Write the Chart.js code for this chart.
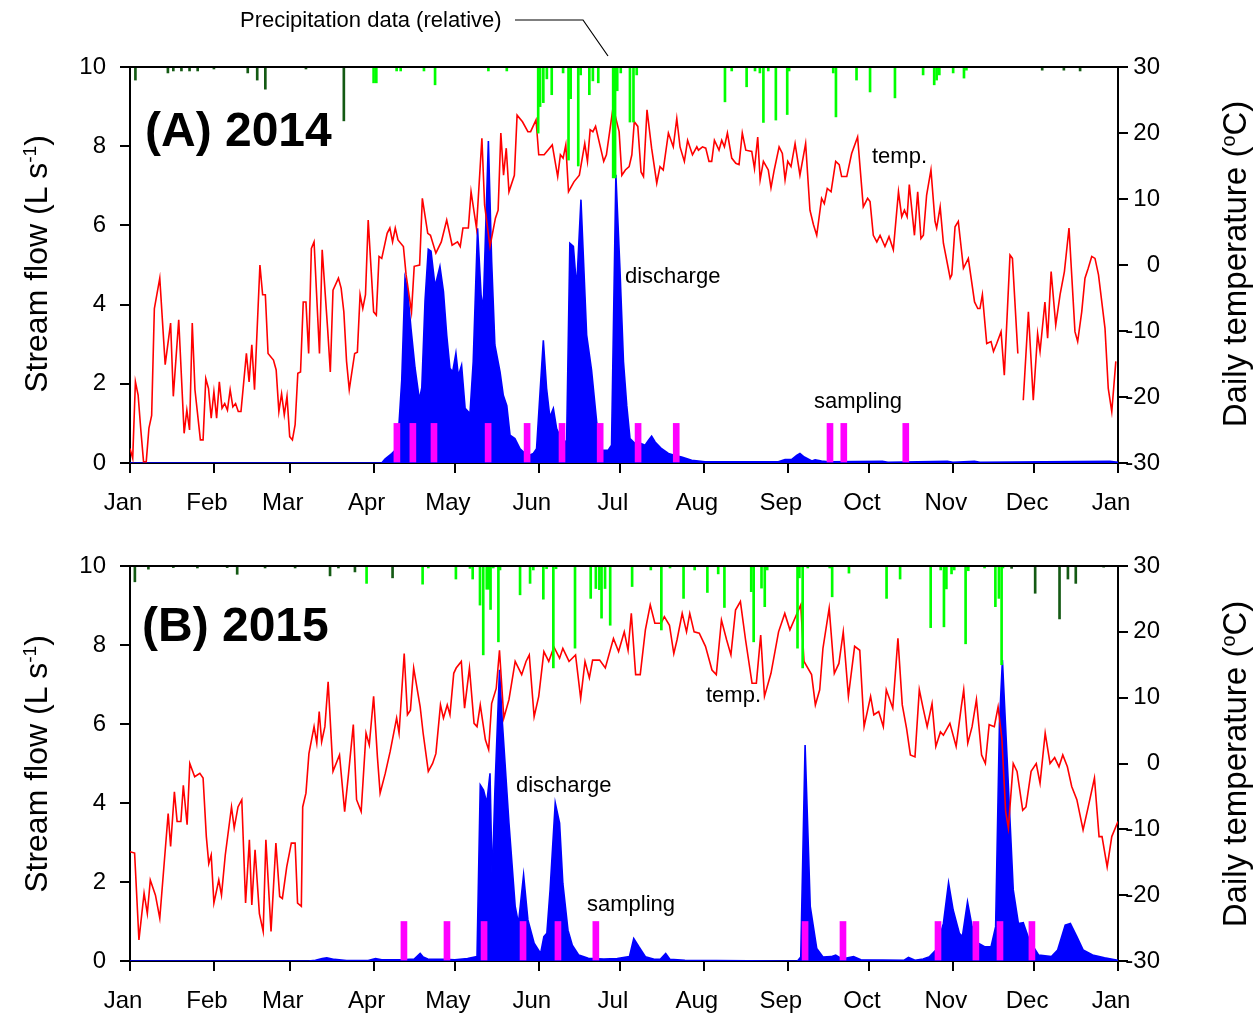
<!DOCTYPE html>
<html>
<head>
<meta charset="utf-8">
<script src="https://cdn.jsdelivr.net/npm/chart.js@4.4.1/dist/chart.umd.min.js"></script>
<style>
  html, body { margin: 0; padding: 0; background: #fff; }
  body { width: 1260px; height: 1017px; position: relative; overflow: hidden; font-family: 'Liberation Sans', Arial, sans-serif; color: #000; }
  canvas { position: absolute; left: 0; }
  .t { position: absolute; white-space: nowrap; transform: translateY(-50%); line-height: 1; }
  .rot { position: absolute; white-space: nowrap; transform: translate(-50%, -50%) rotate(-90deg); font-size: 32px; line-height: 1; }
  sup { font-size: 60%; position: relative; top: -0.55em; vertical-align: baseline; }
</style>
</head>
<body>
<canvas id="cA" width="1260" height="520" style="top:0px"></canvas>
<canvas id="cB" width="1260" height="517" style="top:500px"></canvas>

<div class="t" style="left:240px; top:20px; font-size:22px;">Precipitation data (relative)</div>
<svg style="position:absolute; left:0; top:0;" width="1260" height="80"><polyline points="515,20 583,20 608,56" fill="none" stroke="#000" stroke-width="1.2"/></svg>

<div class="t" style="left:145px; top:130px; font-size:48px; font-weight:bold;">(A) 2014</div>
<div class="t" style="left:142px; top:625px; font-size:48px; font-weight:bold;">(B) 2015</div>

<div class="t" style="left:872px; top:156px; font-size:22px;">temp.</div>
<div class="t" style="left:625px; top:276px; font-size:22px;">discharge</div>
<div class="t" style="left:814px; top:401px; font-size:22px;">sampling</div>
<div class="t" style="left:706px; top:695px; font-size:22px;">temp.</div>
<div class="t" style="left:516px; top:785px; font-size:22px;">discharge</div>
<div class="t" style="left:587px; top:904px; font-size:22px;">sampling</div>

<div class="rot" style="left:36px; top:264px;">Stream flow (L s<sup>-1</sup>)</div>
<div class="rot" style="left:36px; top:764px;">Stream flow (L s<sup>-1</sup>)</div>
<div class="rot" style="left:1234px; top:264px; font-size:33px;">Daily temperature (<sup>o</sup>C)</div>
<div class="rot" style="left:1234px; top:764px; font-size:33px;">Daily temperature (<sup>o</sup>C)</div>

<script>
// ---------- tick labels ----------
const monthStarts = [0, 31, 59, 90, 120, 151, 181, 212, 243, 273, 304, 334, 365];
const monthLabels = ['Jan','Feb','Mar','Apr','May','Jun','Jul','Aug','Sep','Oct','Nov','Dec','Jan'];

// ---------- 2014 ----------
const temp2014 = [[0,-27.8],[1,-29.3],[2,-17.7],[3,-19.7],[4,-25],[5,-29.8],[6,-29.8],[7,-24.7],[8,-22.8],[9,-6.6],[11,-2.0],[13,-15.1],[15,-8.8],[16,-19.9],[18,-8.3],[20,-25.5],[21,-22],[22,-25],[23,-8.8],[24,-18.9],[26,-26.5],[27,-26.5],[28,-17.2],[29,-18.7],[30,-23.2],[31,-19.2],[32,-23.2],[33,-17.7],[34,-21.7],[35,-21],[36,-22],[37,-18.9],[38,-21.5],[39,-21],[40,-22.2],[41,-22.2],[43,-13.4],[44,-17.7],[45,-12.1],[46,-18.9],[48,0],[49,-4.5],[50,-4.5],[51,-13.4],[53,-14.4],[54,-15.9],[55,-22.2],[56,-19.5],[57,-22.7],[58,-19.9],[59,-26],[60,-26.5],[61,-24.2],[62,-16.4],[63,-16.2],[64,-5.6],[65,-5.6],[66,-13.4],[67,2.5],[68,3.5],[70,-13.4],[71,2.3],[73,-9.6],[74,-16.2],[75,-3.8],[77,-2.0],[78,-3.5],[79,-7.1],[80,-14.6],[81,-18.9],[83,-13.4],[84,-13.2],[85,-4.5],[86,-6.6],[87,-4.5],[88,6.8],[90,-7.1],[91,-7.6],[92,1.3],[93,1.0],[95,4.8],[96,5.6],[97,3.5],[98,5.6],[99,3.8],[101,2.8],[102,-1.5],[104,-7.1],[105,-0.2],[107,0],[108,10.1],[110,4.8],[111,4.5],[113,1.8],[115,3.5],[117,6.8],[119,3.0],[121,3.5],[122,2.8],[123,5.6],[125,5.6],[126,11.1],[128,5.6],[130,19.2],[131,9.1],[133,2.8],[135,7.1],[136,8.3],[137,20],[138,13.6],[139,17.7],[140,11.1],[142,13.6],[143,22.7],[145,21.7],[147,20.2],[148,20.2],[150,22],[151,16.7],[153,16.7],[156,18.2],[158,13.4],[159,16.7],[160,16.2],[161,18.2],[162,11.1],[164,12.6],[166,13.6],[168,18.4],[169,15.7],[170,20.5],[171,20.2],[172,21],[175,15.7],[176,16.7],[178.5,24],[179.2,22.7],[180.7,20.2],[181.7,13.6],[183,14.4],[184.4,14.9],[185.4,16.7],[186.3,21.7],[187.6,21],[188.8,14.1],[189.7,13.4],[191,23.5],[192.7,17.7],[194.6,12.4],[195.8,14.9],[197,14.4],[198.9,20],[200.7,17.9],[202,22.2],[203.2,17.9],[204.8,15.7],[206,18.9],[207.8,16.7],[209.4,17.9],[210,17.4],[211.5,17.9],[212.7,17.7],[213.9,15.7],[214.9,15.7],[215.9,18.9],[217.6,17.4],[218.6,18.9],[219.6,17.9],[220.7,20],[222.3,16.2],[223.8,15.4],[225,15.2],[226.2,20],[227.5,17.4],[229.7,17.2],[230.7,14.6],[231.9,19.4],[232.8,12.9],[234,15.7],[235.8,14.4],[236.8,11.7],[238,14.4],[239.8,17.9],[241,16.9],[242,12.9],[243,15.7],[244.2,14.9],[245.7,18.4],[247.5,13.6],[249.6,18.4],[251.2,8.3],[252.5,6.1],[253.7,4.5],[255.5,10.1],[256.5,9.3],[257.6,11.6],[259,11.1],[260.7,15.7],[262,15.2],[262.9,13.4],[264.8,13.4],[266.6,16.9],[268.8,19.4],[270.9,8.8],[272.5,10.1],[273.4,9.6],[274.6,4.5],[275.9,3.5],[277.1,4.5],[278.9,2.8],[280.4,4.3],[282,2.3],[283.9,11.1],[285.1,7.3],[286.1,8.3],[287.1,7.3],[287.9,12.2],[289.8,4.5],[291,11.1],[292.2,4],[293.1,4.5],[294.3,10.6],[295.9,14.4],[297.4,6.6],[298,5.6],[299.3,8.8],[300.5,3.3],[303,-2],[303.6,-1.5],[304.8,5.8],[306,6.6],[307.9,-0.5],[309.7,1.0],[312,-5.6],[313.2,-6.6],[314,-6.6],[314.9,-4.5],[316.5,-11.9],[318.1,-11.6],[319,-13.1],[320.2,-11.9],[321.8,-10.1],[323,-16.7],[325.1,1.5],[326,1.0],[328,-13.4],[329,null],[330,-20.5],[331.9,-7.1],[333.7,-20.5],[335.3,-10.4],[336.2,-13.1],[338,-5.6],[339,-11.1],[340.3,-1],[342,-9.1],[343.6,-4.5],[345.2,-1.0],[346.9,5.6],[349.1,-10.1],[350.1,-11.6],[351.6,-7.1],[352.8,-2.0],[354,-0.5],[355.3,1.3],[356.5,1.0],[357.8,-1.5],[360.2,-9.6],[361.4,-18.7],[362.7,-22.2],[364.2,-14.6]];

const flow2014 = [[0,0],[93,0],[94.2,0.1],[96.7,0.24],[98.5,0.36],[99.4,1.0],[100.4,2.1],[101.6,4.67],[102.5,4.4],[103.8,3.4],[105.3,2.4],[106.9,1.6],[107.8,1.9],[109,4.1],[110.2,5.4],[111.2,5.35],[112.7,4.46],[114.5,4.96],[115.8,4.33],[117,3.23],[118.2,2.39],[119.2,2.3],[120.4,2.77],[121.3,2.2],[122.5,2.47],[123.8,1.38],[125.6,1.25],[126.8,2.56],[128.4,5.93],[129.7,4.24],[130.5,3.9],[132.4,8.13],[133.6,5.1],[134.8,2.98],[136.7,2.3],[137.9,1.71],[139.2,1.45],[140.4,0.7],[142.2,0.62],[144.1,0.36],[146,0.24],[147.8,0.2],[149,0.24],[150.2,0.36],[151.5,1.8],[152.7,3.1],[153.9,1.88],[155.1,1.16],[156.4,1.38],[157.6,0.87],[159.4,0.6],[161.3,0.53],[162.5,5.55],[163.8,5.47],[165,4.41],[166.6,6.65],[168.7,3.23],[170.5,2.35],[172.4,1.04],[174.2,0.32],[176.6,0.32],[177.9,0.45],[179.5,7.28],[181,4.9],[182.3,2.56],[183.5,1.46],[184.7,0.62],[186.6,0.49],[188.8,0.49],[190.3,0.45],[191.5,0.57],[192.7,0.68],[194,0.53],[196.4,0.36],[198.9,0.24],[201.4,0.19],[203.8,0.15],[207.5,0.07],[212.4,0.03],[239.5,0.03],[242,0.09],[244.5,0.09],[246.3,0.19],[247.5,0.24],[249.1,0.15],[251.9,0.05],[253.1,0.08],[255.5,0.05],[258,0.03],[278,0.04],[280,0.02],[302,0.04],[304,0.02],[312,0.04],[314,0.02],[362,0.04],[365,0.02]];

const sampling2014 = [98.6, 104.5, 112.3, 132.3, 146.7, 159.6, 173.7, 187.7, 201.8, 258.6, 263.7, 286.6];

const rain2014 = [[90,4],[91,4],[98.5,1],[100,1],[108.6,1],[112.7,4.5],[132.4,1],[139.2,1],[150.8,16.7],[151.5,10],[152.7,9],[154,3],[155.8,7],[160,1.5],[162,23.5],[162.8,8],[165.6,25],[166.5,2],[169.7,7],[171,3.5],[173,4],[178.5,28],[179.2,28],[180,6],[181.3,1.5],[184.7,13.9],[186,13.9],[187.2,2],[219.8,8.8],[222.3,1],[227.8,5],[230.9,1],[232.7,1.5],[234,14],[235.8,1],[238.6,13.4],[242.8,12],[243.5,1],[259.8,1.5],[260.8,12.6],[268.4,3.3],[273.4,6.3],[282.6,7.8],[293,2],[297.1,4.5],[298,3.3],[299,2],[304.1,1.5],[308.1,2.8],[309,0.8]];
const snow2014 = [[2,3.3],[14,1.5],[16,1],[19,1],[22,1],[25,1],[31,0.5],[43.5,1.5],[47,3.3],[50,5.6],[65,0.5],[79,13.6],[337,0.8],[345,0.8],[351,1]];

// ---------- 2015 ----------
const temp2015 = [[0,-13.4],[1.7,-13.6],[3.3,-26.8],[5.2,-19.7],[6.4,-22.8],[7.5,-17.7],[9.4,-20],[11,-23.5],[14.1,-7.6],[15,-12.6],[16.4,-4.3],[17.4,-8.8],[18.8,-8.8],[19.7,-3.3],[21.1,-9.3],[22.1,0],[23.9,-2],[25.8,-1.5],[27,-2.2],[28.2,-11.1],[29.1,-15.2],[30,-13.9],[31,-21.2],[32.8,-17.7],[33.8,-20],[35.2,-13.9],[37.5,-6.6],[38.5,-9.8],[39.9,-6.6],[41.3,-5.5],[42.7,-21.2],[44.1,-11.6],[45,-21.5],[46.2,-13.1],[47.8,-22.8],[49.2,-25.5],[50.2,-11.6],[52.1,-25.5],[53.9,-12.1],[55.3,-20.2],[56.3,-20.5],[57.9,-15.7],[59.6,-12.1],[61,-12.1],[61.9,-21.2],[63.3,-21.7],[63.8,-6.6],[65,-4.5],[66.1,1.5],[68,5.6],[69,3.1],[69.9,7.9],[70.8,3.3],[72,5.6],[73.2,12.4],[75,-1.2],[77.4,1.3],[79.3,-7.3],[80.7,-1.7],[82.5,5.9],[83.7,-5.5],[85.4,-7.3],[87.2,4.6],[88.4,2.8],[90,10.2],[91.4,1.0],[92.4,-4.5],[94.3,-1.5],[96.1,1.8],[98.5,6.9],[99.4,4.6],[101.3,16.7],[102.5,7.4],[103.6,8.1],[104.8,14.5],[107.2,8.6],[108.3,4.6],[110.2,-1.2],[111.8,0],[113,1.5],[114.7,8.9],[115.8,6.9],[117.2,8.9],[118.2,7.4],[119.6,13.7],[120.5,14.5],[122.4,15.5],[123.6,8.4],[125.4,14.5],[127.1,6.1],[128.2,5.6],[129.4,8.9],[131.3,3.6],[132.5,2.1],[133.6,9.1],[135.3,11.4],[136.5,17.2],[138.1,6.9],[140,9.7],[142.3,15.5],[144.7,13.5],[146.3,15.5],[147.5,16.5],[149.3,7.1],[151,10.2],[152.9,17],[154.7,15.5],[156.6,17.7],[158.7,16],[159.9,17.5],[162.2,15.5],[164.6,16.5],[166.5,9.9],[168.1,15.5],[169.7,13],[170.9,15.7],[173.5,15.7],[175.6,14.5],[178.6,19],[180.5,17],[182.6,20],[184,17.2],[185.2,22.8],[186.8,13.5],[188.5,13.5],[190.4,20.3],[192.2,24.1],[193.9,21.3],[196.2,21.3],[197.4,22.3],[199.3,21],[200.9,16.7],[202.1,18.8],[204,22.8],[205.6,20],[206.8,22.8],[208.4,20],[210.3,19.8],[212.6,17.8],[215,14.2],[216.6,13.5],[218.5,21.8],[220.4,18.8],[222,16.5],[223.7,23.3],[225.5,24.6],[227.4,18.8],[229.8,12.2],[231.4,12.2],[233,19.5],[234.4,10.2],[236.8,13.7],[239.6,20],[241.9,22.8],[243.8,20.3],[246.2,22.6],[247.8,24.1],[249,15.5],[251.8,13.5],[253.2,8.9],[254.8,11.2],[256,17.5],[258.3,23.6],[260.2,13.7],[261.9,15.2],[263.5,20],[265.4,10.2],[267.7,17.8],[269.6,17.2],[271.2,5.6],[273.6,10.2],[274.8,7.4],[276.6,7.9],[278.3,5.6],[279.4,11.2],[281.8,8.4],[283.7,19],[285.3,8.9],[286.9,5.3],[288.3,1.3],[290,1.0],[291.6,11.2],[293,8.4],[294.5,5.6],[296.3,9.1],[297.7,2.6],[299.4,4.8],[300.5,4.3],[302.9,6.1],[305.2,2.6],[307.1,8.6],[308,11.2],[309.5,3.1],[311.1,5.6],[312.7,9.7],[314.6,1.3],[316,0],[317.4,5.9],[319.3,5.6],[320.7,8.6],[322.1,3.8],[323.5,-7.3],[324.5,-9.8],[326.3,0],[327.7,-1.2],[329.8,-7.1],[331,-6.6],[332.9,-1.2],[334.8,0],[336.2,-3],[338.1,4.6],[339.9,0],[341.6,0.9],[343.2,-0.5],[344.6,1.3],[346.3,-0.5],[347.9,-3.5],[349.8,-5.5],[352.1,-10.1],[354,-6.6],[356.3,-2.2],[358,-11.1],[359.1,-11.1],[361,-15.7],[362.7,-11.1],[365,-8.8]];

const flow2015 = [[0,0],[66,0],[68.5,0.02],[71,0.06],[72.7,0.08],[75.5,0.04],[80,0.01],[88,0.01],[90.7,0.06],[93,0.03],[100,0.03],[105,0.05],[107.2,0.19],[108.3,0.1],[110,0.05],[116,0.04],[120,0.03],[124.7,0.06],[128.2,0.11],[129.4,4.46],[130.6,4.33],[131.8,4.0],[133,4.75],[133.8,2.0],[134.8,4.3],[136.5,7.37],[137.6,6.0],[140,3.49],[142.3,1.38],[143.5,0.95],[145.4,2.18],[147,1.04],[149.3,0.45],[151.7,0.19],[152.9,0.62],[154,0.7],[155.2,1.8],[157.1,4.0],[158.7,3.49],[159.9,1.97],[161.8,0.78],[163.4,0.4],[165.8,0.15],[169.3,0.07],[175,0.05],[180,0.06],[184.5,0.11],[186.1,0.57],[188,0.36],[190.4,0.11],[194,0.04],[196,0.05],[197.9,0.19],[199.5,0.04],[205,0.02],[240,0.0],[246.6,0.0],[247.8,0.1],[249.4,5.47],[251.3,1.38],[253.7,0.32],[256,0.1],[259,0.11],[260.7,0.15],[263,0.05],[267.3,0.11],[270,0.03],[286,0.02],[287.6,0.09],[290,0.02],[293,0.05],[295.4,0.11],[297.7,0.28],[300.5,0.95],[302.4,1.98],[304.1,1.29],[306.4,0.7],[307.5,0.62],[309.4,1.5],[311.1,0.87],[313.4,0.45],[315.7,0.36],[318.1,0.36],[319.8,0.87],[321.2,6.0],[322.3,7.62],[324,5.17],[326.3,1.8],[328.2,0.95],[330,0.97],[332.2,0.53],[335.7,0.15],[340.4,0.11],[342.7,0.28],[345.5,0.91],[347.4,0.95],[349.8,0.62],[352.1,0.28],[355.6,0.15],[360,0.08],[365,0.02]];

const sampling2015 = [101.2, 117.1, 130.8, 145.2, 158.1, 172.1, 249.4, 263.4, 298.5, 312.5, 321.4, 333.2];

const rain2015 = [[87.4,4.4],[108.1,4.6],[110.2,0.5],[120.4,3.3],[125.6,0.6],[126.6,3.3],[129.3,9.9],[130.5,22.5],[131.8,5.9],[132.7,5.9],[133.2,11],[134.2,0.5],[136.1,19.2],[136.7,1],[144.1,7.3],[147.8,4.4],[149,1],[152.7,8.4],[153.9,0.7],[156.4,25.8],[157.4,0.7],[164.4,20.8],[170.2,8.2],[172.1,5.7],[173.4,6],[174.2,13.2],[175.5,5.7],[177.4,15],[185.5,5.2],[192.4,1],[196.3,16.2],[199.5,0.5],[204.5,8.2],[208.6,1],[213.3,6.7],[217.3,2],[219.6,10.5],[229.5,6.5],[230.4,19.2],[233.3,5.6],[234.5,10.3],[235.4,1],[246.6,20.8],[247.3,3],[248.5,25.8],[250.4,0.5],[258.5,0.5],[259.4,7.8],[265.6,1.8],[279.5,8.2],[284.5,3.3],[295.8,15.6],[299.5,1],[300.7,15.4],[301.6,5.8],[303.5,2],[304.5,1],[308.7,19.7],[309.7,1.2],[315.7,0.5],[319.7,10.3],[321,8.2],[322,25],[322.5,0.5]];
const snow2015 = [[1.8,4],[6.8,0.8],[16,0.4],[24.9,0.5],[35.9,0.4],[39.6,2.1],[49.9,0.5],[61,0.5],[73.9,2.5],[77,0.5],[83.1,1.5],[97,3],[325.7,0.6],[334.4,6.9],[343.4,13.4],[346.5,3.3],[349.4,4.4],[359.7,0.3]];

const SAMPLE_HEIGHT = 1;

// ---------- helpers ----------
const pts = arr => arr.map(([x, y]) => ({ x, y }));
const font = { family: "'Liberation Sans', Arial, sans-serif", size: 24 };

const framePlugin = {
  id: 'frame',
  afterDraw(chart) {
    const { ctx, chartArea: a } = chart;
    ctx.save();
    ctx.strokeStyle = '#000';
    ctx.lineWidth = 2;
    ctx.beginPath();
    ctx.moveTo(a.left - 1, a.top);
    ctx.lineTo(a.right + 1, a.top);
    ctx.stroke();
    ctx.restore();
  }
};

function noPad(scale) {
  scale.paddingTop = 0; scale.paddingBottom = 0; scale.paddingLeft = 0; scale.paddingRight = 0;
}

function makeChart(id, temp, flow, samples, rain, snow, topPad, xHeight) {
  const gridOpts = { drawOnChartArea: false, drawTicks: true, tickLength: 10, color: '#000', lineWidth: 2, offset: false };
  const borderOpts = { display: true, color: '#000', width: 2 };
  return new Chart(document.getElementById(id), {
    type: 'line',
    data: {
      datasets: [
        { type: 'bar', label: 'rain', data: pts(rain), yAxisID: 'yp', backgroundColor: '#00ff00', barThickness: 2, grouped: false, order: 0, borderWidth: 0 },
        { type: 'bar', label: 'snow', data: pts(snow), yAxisID: 'yp', backgroundColor: '#145a14', barThickness: 2, grouped: false, order: 0, borderWidth: 0 },
        { type: 'bar', label: 'sampling', data: samples.map(d => ({ x: d, y: SAMPLE_HEIGHT })), yAxisID: 'y', backgroundColor: '#ff00ff', barThickness: 6, grouped: false, order: 1, borderWidth: 0 },
        { type: 'line', label: 'temp', data: pts(temp), yAxisID: 'y2', borderColor: '#ff0000', borderWidth: 1.6, pointRadius: 0, tension: 0, fill: false, spanGaps: false, order: 2 },
        { type: 'line', label: 'discharge', data: pts(flow), yAxisID: 'y', borderColor: '#0000ff', backgroundColor: '#0000ff', borderWidth: 1.6, pointRadius: 0, tension: 0, fill: 'origin', order: 3 }
      ]
    },
    options: {
      responsive: false,
      animation: false,
      devicePixelRatio: 1,
      layout: { padding: { top: topPad, right: 100, bottom: 0, left: 0 } },
      plugins: { legend: { display: false }, tooltip: { enabled: false } },
      scales: {
        x: {
          type: 'linear', position: 'bottom', min: 0, max: 365, offset: false,
          afterBuildTicks: s => { s.ticks = monthStarts.map(v => ({ value: v })); },
          afterFit: s => { s.height = xHeight; noPad(s); },
          ticks: {
            autoSkip: false, maxRotation: 0, minRotation: 0, padding: 16, labelOffset: -7, color: '#000', font,
            callback: (v) => { const i = monthStarts.indexOf(v); return i >= 0 ? monthLabels[i] : ''; }
          },
          grid: gridOpts, border: borderOpts
        },
        y: {
          position: 'left', min: 0, max: 10,
          afterFit: s => { s.width = 130; noPad(s); },
          ticks: { stepSize: 2, padding: 14, color: '#000', font },
          grid: gridOpts, border: borderOpts
        },
        y2: {
          position: 'right', min: -30, max: 30,
          afterFit: s => { s.width = 42; noPad(s); },
          ticks: { stepSize: 10, padding: 4, color: '#000', font, crossAlign: 'far' },
          grid: gridOpts, border: borderOpts
        },
        yp: { display: false, min: 0, max: 100, reverse: true }
      }
    },
    plugins: [framePlugin]
  });
}

makeChart('cA', temp2014, flow2014, sampling2014, rain2014, snow2014, 67, 57);
makeChart('cB', temp2015, flow2015, sampling2015, rain2015, snow2015, 66, 56);
</script>
</body>
</html>
